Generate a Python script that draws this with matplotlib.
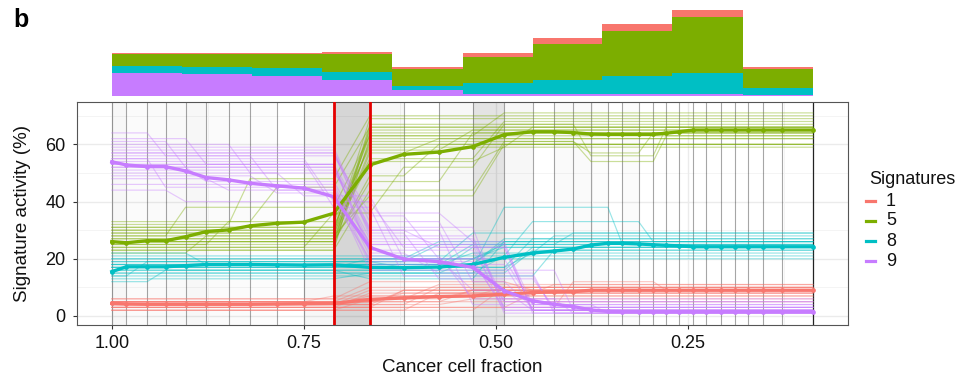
import numpy as np
import matplotlib
matplotlib.use("Agg")
import matplotlib.pyplot as plt
from matplotlib.lines import Line2D

plt.rcParams['font.family'] = ['Liberation Sans', 'DejaVu Sans']

# ---------------------------------------------------------------- data
# time points along the cancer cell fraction axis
ccf = [1.000, 0.981, 0.954, 0.930, 0.904, 0.877, 0.848, 0.820, 0.785, 0.750,
       0.711, 0.664, 0.620, 0.574, 0.530, 0.489, 0.452, 0.424, 0.399, 0.376,
       0.354, 0.335, 0.314, 0.295, 0.278, 0.261, 0.243, 0.226, 0.207, 0.189,
       0.171, 0.152, 0.127, 0.087]

signatures = ["1", "5", "8", "9"]
sig_colors = ["#F8766D", "#7CAE00", "#00BFC4", "#C77CFF"]

# fitted signature activity (%) at each time point
act_1 = [4.4, 4.2, 4.1, 4.1, 4.1, 4.1, 4.1, 4.1, 4.2, 4.3, 4.4, 5.8, 6.3, 6.8,
         7.0, 7.6, 8.2, 8.4, 8.5, 9.0, 9.0, 9.0, 9.0, 9.0, 9.0, 9.0, 9.0, 9.0,
         9.0, 9.0, 9.0, 9.0, 9.0, 9.0]
act_5 = [26.0, 25.6, 26.3, 26.3, 27.7, 29.5, 30.1, 31.5, 32.4, 32.8, 35.9,
         52.8, 56.5, 57.3, 59.2, 63.4, 64.4, 64.4, 64.1, 63.6, 63.5, 63.5,
         63.5, 63.5, 63.9, 64.4, 65.0, 65.0, 65.0, 65.0, 65.0, 65.0, 65.0, 65.0]
act_8 = [15.5, 17.2, 17.2, 17.2, 17.6, 18.0, 18.0, 18.0, 17.9, 17.8, 17.9,
         17.0, 16.9, 17.1, 18.0, 20.5, 22.0, 22.7, 23.4, 24.8, 25.4, 25.4,
         25.2, 24.9, 24.7, 24.5, 24.2, 24.2, 24.2, 24.2, 24.2, 24.2, 24.2, 24.2]
act_9 = [53.9, 52.8, 52.2, 52.2, 50.7, 48.4, 47.6, 46.4, 45.5, 44.7, 41.7,
         24.0, 19.9, 19.0, 17.0, 8.8, 5.3, 4.1, 3.3, 2.1, 1.6, 1.5, 1.5, 1.5,
         1.5, 1.5, 1.5, 1.5, 1.5, 1.5, 1.5, 1.5, 1.5, 1.5]

# bootstrap trajectories: (first time-point index, activity level) steps
boot_1 = [
    [(0, 4), (11, 7)], [(0, 3), (12, 9)], [(0, 5), (11, 10)],
    [(0, 2), (13, 8)], [(0, 6), (11, 12), (16, 9)], [(0, 4), (14, 6)],
    [(0, 3), (11, 8), (17, 11)], [(0, 5), (12, 7)], [(0, 2), (15, 10)],
    [(0, 4), (11, 9)], [(0, 6), (13, 11)], [(0, 3), (16, 8)],
    [(0, 5), (10, 7), (15, 10)], [(0, 4), (11, 5)],
    [(0, 3), (18, 12), (24, 9)], [(0, 5), (12, 8)],
    [(0, 2), (11, 6), (14, 9)], [(0, 4), (13, 10)],
    [(0, 4), (12, 9)], [(0, 5), (14, 9)],
]
boot_5 = [
    [(0, 27), (11, 58), (14, 65)], [(0, 24), (11, 62)],
    [(0, 30), (11, 55), (15, 68)], [(0, 22), (5, 28), (11, 64)],
    [(0, 33), (8, 45), (11, 66)], [(0, 26), (11, 49), (13, 60)],
    [(0, 25), (11, 67), (19, 56), (24, 66)], [(0, 31), (11, 60)],
    [(0, 28), (4, 38), (11, 63)],
    [(0, 23), (11, 44), (15, 61), (19, 54), (24, 63)],
    [(0, 29), (11, 69)], [(0, 32), (7, 48), (11, 70)],
    [(0, 26), (11, 57), (13, 62)], [(0, 24), (10, 36), (12, 52), (15, 67)],
    [(0, 27), (11, 61), (19, 57), (23, 64)], [(0, 30), (11, 65)],
    [(0, 25), (6, 33), (11, 59), (16, 66)], [(0, 28), (11, 42), (15, 60)],
    [(0, 23), (11, 66)], [(0, 31), (11, 63), (15, 71)],
    [(0, 26), (11, 47), (14, 64)], [(0, 29), (11, 54), (15, 59)],
]
boot_8 = [
    [(0, 16), (14, 24)], [(0, 18), (15, 27)],
    [(0, 14), (2, 19), (12, 17), (16, 22)], [(0, 20), (13, 26)],
    [(0, 17), (15, 38), (21, 25)], [(0, 13), (11, 15), (16, 23)],
    [(0, 19), (14, 29)], [(0, 21), (16, 33), (23, 26)],
    [(0, 15), (15, 21)], [(0, 17), (11, 20), (15, 25)],
    [(0, 12), (3, 16), (16, 24)], [(0, 18), (14, 22), (17, 28)],
    [(0, 16), (11, 13), (15, 26)], [(0, 20), (15, 24)],
    [(0, 14), (17, 23)], [(0, 19), (13, 25), (18, 29)],
    [(0, 17), (16, 27)], [(0, 22), (5, 18), (14, 25)],
    [(0, 15), (14, 20)], [(0, 18), (15, 26)],
]
boot_9 = [
    [(0, 58), (11, 28), (15, 3)], [(0, 55), (10, 40), (12, 24), (16, 2)],
    [(0, 61), (4, 52), (11, 30), (14, 4)], [(0, 50), (9, 42), (12, 20), (15, 2)],
    [(0, 53), (11, 22), (13, 15), (17, 1)],
    [(0, 64), (3, 56), (8, 44), (11, 26), (15, 5)],
    [(0, 48), (6, 44), (11, 18), (16, 2)], [(0, 57), (11, 33), (14, 12), (16, 3)],
    [(0, 52), (5, 47), (11, 25), (15, 1)], [(0, 46), (11, 21), (14, 6), (18, 1)],
    [(0, 60), (7, 50), (11, 35), (13, 20), (16, 4)],
    [(0, 54), (10, 38), (12, 14), (17, 2)], [(0, 51), (11, 27), (15, 6)],
    [(0, 59), (11, 30), (13, 24), (16, 2)], [(0, 55), (3, 45), (11, 19), (15, 3)],
    [(0, 49), (8, 43), (11, 16), (18, 2)], [(0, 56), (11, 36), (14, 26), (16, 1)],
    [(0, 62), (5, 53), (11, 23), (15, 5)],
    [(0, 44), (4, 40), (11, 20), (14, 9), (16, 2)], [(0, 53), (11, 31), (15, 2)],
    [(0, 57), (11, 29), (13, 13), (17, 3)], [(0, 52), (11, 25), (16, 4), (20, 1)],
]

# changepoint support between consecutive time points (bootstrap frequency)
cp_support = [0.03, 0.015, 0.02, 0.025, 0.03, 0.015, 0.015, 0.01, 0.00, 0.03,
              0.16, 0.03, 0.00, 0.03, 0.11, 0.03, 0.00, 0.02, 0.02, 0.01,
              0.00, 0.015, 0.00, 0.00, 0.00, 0.00, 0.00, 0.00, 0.00, 0.00,
              0.00, 0.00, 0.00]
changepoints = [10, 11]

# mutations per cancer-cell-fraction bin, by signature
bin_edges = [1.000, 0.909, 0.817, 0.726, 0.635, 0.543, 0.452, 0.361, 0.270,
             0.178, 0.087]
bin_9 = [22.8, 21.5, 19.5, 15.5, 5.5, 2.0, 2.0, 1.5, 1.5, 0.5]
bin_8 = [7.0, 7.3, 7.7, 7.7, 4.5, 10.8, 13.3, 18.0, 20.7, 6.7]
bin_5 = [11.4, 12.4, 14.0, 18.0, 16.5, 26.0, 36.3, 45.3, 56.0, 19.0]
bin_1 = [1.6, 1.6, 1.6, 2.0, 1.7, 4.0, 5.4, 6.7, 7.3, 2.6]

x_ticks = [1.00, 0.75, 0.50, 0.25]
x_ticklabels = ["1.00", "0.75", "0.50", "0.25"]
y_ticks = [0, 20, 40, 60]


def expand(steps, n):
    vals = np.empty(n)
    for start, level in steps:
        vals[start:] = level
    return vals


# ---------------------------------------------------------------- figure
W, H = 955, 377
fig = plt.figure(figsize=(W / 100, H / 100), dpi=100)
fig.patch.set_facecolor("white")

xlim = (1.0457, 0.0413)
pl, pr, pt, pb = 76.7, 848.0, 102.3, 325.0
ax = fig.add_axes([pl / W, 1 - pb / H, (pr - pl) / W, (pb - pt) / H])
ax.set_xlim(*xlim)
ax.set_ylim(-3.15, 74.7)
ax.set_facecolor("white")

# grid
for y in [10, 30, 50, 70]:
    ax.axhline(y, color="#F3F3F3", lw=0.6, zorder=0)
for y in y_ticks:
    ax.axhline(y, color="#EBEBEB", lw=1.0, zorder=0)
for x in [0.875, 0.625, 0.375, 0.125]:
    ax.axvline(x, color="#F3F3F3", lw=0.6, zorder=0)
for x in x_ticks:
    ax.axvline(x, color="#EBEBEB", lw=1.0, zorder=0)

# changepoint support shading
for k, a in enumerate(cp_support):
    if a > 0:
        ax.axvspan(ccf[k], ccf[k + 1], color="black", alpha=a, lw=0, zorder=0.5)

# time point lines
for k, x in enumerate(ccf):
    if k == len(ccf) - 1:
        ax.axvline(x, color="#222222", lw=0.9, zorder=1)
    else:
        ax.axvline(x, color="black", alpha=0.35, lw=0.8, zorder=1)

n = len(ccf)
boots = [boot_1, boot_5, boot_8, boot_9]
acts = [act_1, act_5, act_8, act_9]

for steps_list, col in zip(boots, sig_colors):
    for steps in steps_list:
        ax.plot(ccf, expand(steps, n), color=col, alpha=0.4, lw=0.85,
                zorder=2, solid_joinstyle="miter")

for vals, col in zip(acts, sig_colors):
    ax.plot(ccf, vals, color=col, lw=2.4, zorder=3, marker="o",
            markersize=3.4, markeredgewidth=0)

for k in changepoints:
    ax.axvline(ccf[k], color="#E50000", lw=2.0, zorder=4)

ax.set_xticks(x_ticks)
ax.set_xticklabels(x_ticklabels)
ax.set_yticks(y_ticks)
ax.tick_params(axis="both", length=3, width=0.8, color="#333333",
               labelsize=13, labelcolor="#111111")
ax.tick_params(axis="x", pad=4)
ax.tick_params(axis="y", pad=5)
for s in ax.spines.values():
    s.set_color("#555555")
    s.set_linewidth(0.8)

fig.text(23 / W, 1 - 214 / H, "Signature activity (%)", rotation=90,
         ha="center", va="center", fontsize=13.5, color="#111111")
fig.text((pl + pr) / 2 / W, 1 - 367 / H, "Cancer cell fraction",
         ha="center", va="center", fontsize=13.5, color="#111111")

# stacked mutation bars above the panel
axt = fig.add_axes([pl / W, 1 - 95.5 / H, (pr - pl) / W, 85.5 / H])
axt.set_xlim(*xlim)
axt.set_ylim(0, 85.5)
axt.axis("off")
left = np.array(bin_edges[:-1])
width = np.array(bin_edges[1:]) - left
bottom = np.zeros(len(left))
for vals, col in zip([bin_9, bin_8, bin_5, bin_1],
                     [sig_colors[3], sig_colors[2], sig_colors[1], sig_colors[0]]):
    axt.bar(left, vals, width=width, bottom=bottom, align="edge",
            color=col, lw=0)
    bottom += np.array(vals)

# legend
fig.text(869 / W, 1 - 180 / H, "Signatures", ha="left", va="center",
         fontsize=13, color="#111111")
for i, (lab, col) in enumerate(zip(signatures, sig_colors)):
    yy = 1 - (201 + 20 * i) / H
    fig.add_artist(Line2D([866 / W, 875 / W], [yy, yy], color=col, lw=2.3,
                          transform=fig.transFigure))
    fig.text(886 / W, yy, lab, ha="left", va="center", fontsize=13,
             color="#111111")

fig.text(13 / W, 1 - 27 / H, "b", ha="left", va="baseline", fontsize=18,
         fontweight="bold")

fig.savefig("out.png", dpi=100, facecolor="white")
